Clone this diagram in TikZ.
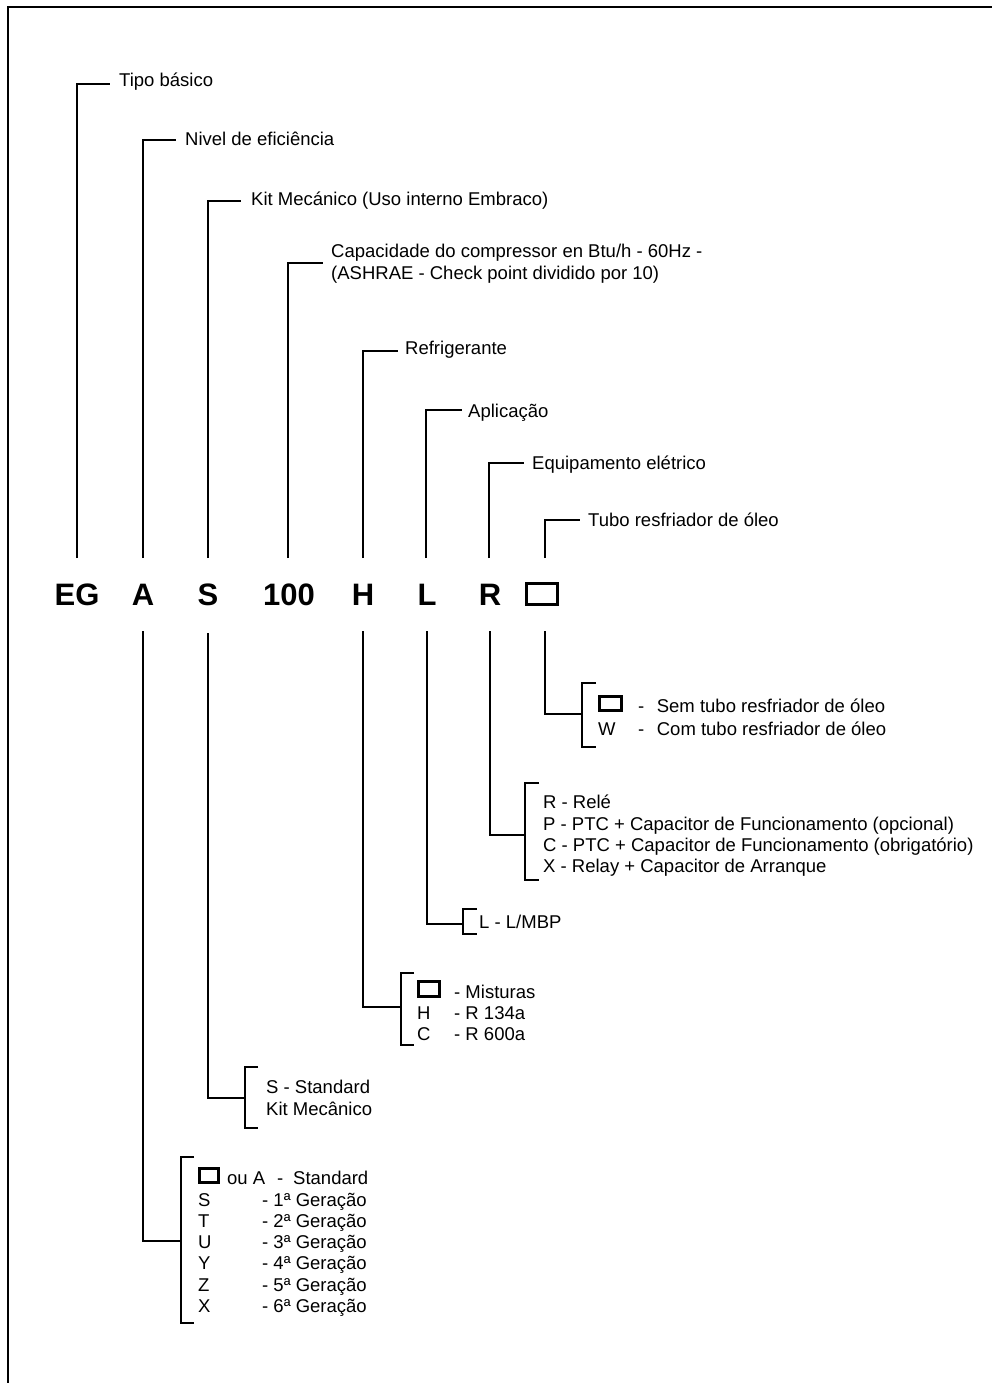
\documentclass[tikz,border=0pt]{standalone}
\usepackage{fontspec}
\setmainfont{Liberation Sans}
\begin{document}
\begin{tikzpicture}[x=1pt,y=-1pt,
  conn/.style={line width=1.4pt},
  frame/.style={line width=1.5pt},
  lbl/.style={anchor=base west, inner sep=0pt, font=\fontsize{18.5}{21.3}\selectfont},
  codetxt/.style={anchor=base, inner sep=0pt, font=\fontsize{31}{31}\selectfont\bfseries},
  glyph/.style={draw, line width=2.6pt, inner sep=0pt, outer sep=0pt}]
\useasboundingbox (0,0) rectangle (992,1383);
% frame
\coordinate (fTR) at (992,7);
\coordinate (fTL) at (8,7);
\coordinate (fBL) at (8,1383);
\draw[frame] (fTR) -- (fTL) -- (fBL);

% code row
\node[codetxt] (cEG) at (77,605) {EG};
\node[codetxt] (cA) at (143,605) {A};
\node[codetxt] (cS) at (208,605) {S};
\node[codetxt] (c100) at (289,605) {100};
\node[codetxt] (cH) at (363,605) {H};
\node[codetxt] (cL) at (427,605) {L};
\node[codetxt] (cR) at (490,605) {R};
\node[glyph, line width=3pt, minimum width=31pt, minimum height=21pt] (cBox) at (542,594) {};

% upper labels
\node[lbl] (tipo) at (119,87) {Tipo básico};
\node[lbl] (nivel) at (185,146) {Nivel de eficiência};
\node[lbl] (kit) at (251,205) {Kit Mecánico (Uso interno Embraco)};
\node[lbl] (cap1) at (331,257) {Capacidade do compressor en Btu/h - 60Hz -};
\node[lbl] (cap2) at (331,279) {(ASHRAE - Check point dividido por 10)};
\node[lbl] (refr) at (405,354) {Refrigerante};
\node[lbl] (apl) at (468,417) {Aplicação};
\node[lbl] (equip) at (532,469) {Equipamento elétrico};
\node[lbl] (tubo) at (588,526) {Tubo resfriador de óleo};

% upper connectors
\coordinate (uEG) at (77,558);   \coordinate (hTipo) at (110,84);
\coordinate (uA) at (143,558);   \coordinate (hNivel) at (176,140);
\coordinate (uS) at (208,558);   \coordinate (hKit) at (241,201);
\coordinate (u100) at (288,558); \coordinate (hCap) at (323,263);
\coordinate (uH) at (363,558);   \coordinate (hRefr) at (398,351);
\coordinate (uL) at (426,558);   \coordinate (hApl) at (462,410);
\coordinate (uR) at (489,558);   \coordinate (hEquip) at (524,463);
\coordinate (uBox) at (545,558); \coordinate (hTubo) at (580,520);
\draw[conn] (uEG) |- (hTipo);
\draw[conn] (uA) |- (hNivel);
\draw[conn] (uS) |- (hKit);
\draw[conn] (u100) |- (hCap);
\draw[conn] (uH) |- (hRefr);
\draw[conn] (uL) |- (hApl);
\draw[conn] (uR) |- (hEquip);
\draw[conn] (uBox) |- (hTubo);

% lower connectors and brackets
\coordinate (dA) at (143,631);   \coordinate (jA) at (181,1241);
\coordinate (dS) at (208,633);   \coordinate (jS) at (245,1098);
\coordinate (dH) at (363,631);   \coordinate (jH) at (401,1007);
\coordinate (dL) at (427,631);   \coordinate (jL) at (463,924);
\coordinate (dR) at (490,631);   \coordinate (jR) at (525,835);
\coordinate (dBox) at (545,631); \coordinate (jBox) at (582,714);
\draw[conn] (dA) |- (jA);
\draw[conn] (dS) |- (jS);
\draw[conn] (dH) |- (jH);
\draw[conn] (dL) |- (jL);
\draw[conn] (dR) |- (jR);
\draw[conn] (dBox) |- (jBox);
\draw[conn] (194,1157) -- (181,1157) -- (181,1323) -- (194,1323);
\draw[conn] (258,1067) -- (245,1067) -- (245,1128) -- (258,1128);
\draw[conn] (414,973) -- (401,973) -- (401,1045) -- (414,1045);
\draw[conn] (477,909) -- (463,909) -- (463,934) -- (477,934);
\draw[conn] (539,783) -- (525,783) -- (525,880) -- (539,880);
\draw[conn] (596,683) -- (582,683) -- (582,747) -- (596,747);

% tubo list
\node[glyph, minimum width=22.4pt, minimum height=14.4pt] (tbBox) at (610.5,703.5) {};
\node[lbl] (tb1) at (638,712) {-\hspace{12.5pt}Sem tubo resfriador de óleo};
\node[lbl] (tbW) at (598,735) {W};
\node[lbl] (tb2) at (638,735) {-\hspace{12.5pt}Com tubo resfriador de óleo};

% equipamento list
\node[lbl] (r1) at (543,808) {R - Relé};
\node[lbl] (r2) at (543,830) {P - PTC + Capacitor de Funcionamento (opcional)};
\node[lbl] (r3) at (543,851) {C - PTC + Capacitor de Funcionamento (obrigatório)};
\node[lbl] (r4) at (543,872) {X - Relay + Capacitor de Arranque};

% aplicacao
\node[lbl] (l1) at (479,928) {L - L/MBP};

% refrigerante list
\node[glyph, minimum width=21.4pt, minimum height=15.4pt] (hBox) at (429,989) {};
\node[lbl] (h1) at (454,998) {- Misturas};
\node[lbl] (hH) at (417,1019) {H};
\node[lbl] (h2) at (454,1019) {- R 134a};
\node[lbl] (hC) at (417,1040) {C};
\node[lbl] (h3) at (454,1040) {- R 600a};

% kit list
\node[lbl] (s1) at (266,1093) {S - Standard};
\node[lbl] (s2) at (266,1115) {Kit Mecânico};

% nivel list
\node[glyph, minimum width=19.4pt, minimum height=14.4pt] (aBox) at (209,1175.5) {};
\node[lbl] (a0) at (227,1184) {ou A};
\node[lbl] (a0d) at (277,1184) {-};
\node[lbl] (a0t) at (293,1184) {Standard};
\node[lbl] (aS) at (198,1206) {S};  \node[lbl] (a1) at (262,1206) {- 1ª Geração};
\node[lbl] (aT) at (198,1227) {T};  \node[lbl] (a2) at (262,1227) {- 2ª Geração};
\node[lbl] (aU) at (198,1248) {U};  \node[lbl] (a3) at (262,1248) {- 3ª Geração};
\node[lbl] (aY) at (198,1269) {Y};  \node[lbl] (a4) at (262,1269) {- 4ª Geração};
\node[lbl] (aZ) at (198,1291) {Z};  \node[lbl] (a5) at (262,1291) {- 5ª Geração};
\node[lbl] (aX) at (198,1312) {X};  \node[lbl] (a6) at (262,1312) {- 6ª Geração};
\end{tikzpicture}
\end{document}
